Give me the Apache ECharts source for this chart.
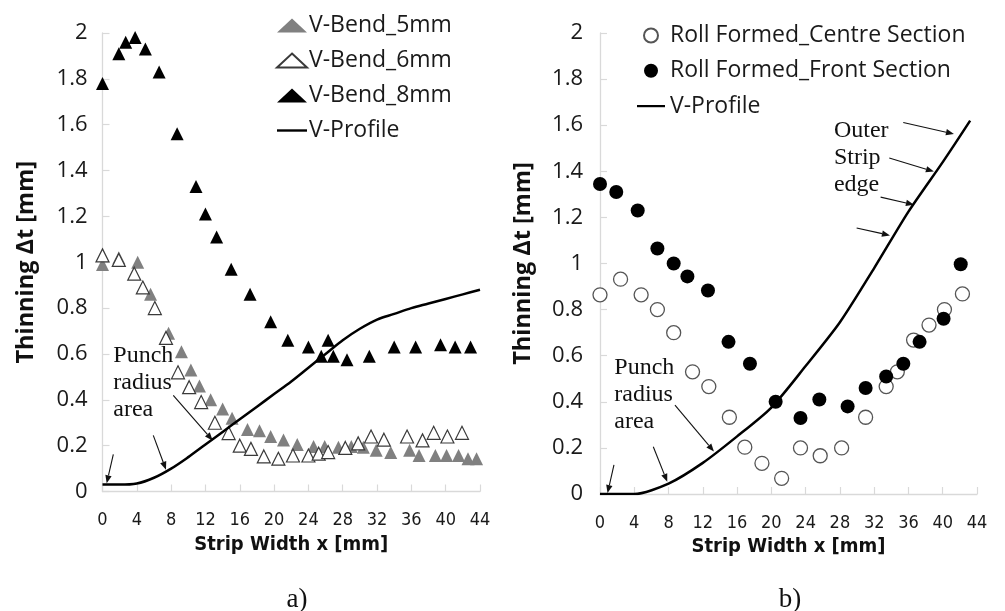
<!DOCTYPE html>
<html><head><meta charset="utf-8">
<script src="https://cdn.jsdelivr.net/npm/echarts@6/dist/echarts.min.js"></script>
<style>html,body{margin:0;padding:0;background:#fff}#c{width:1005px;height:611px}</style>
</head><body><div id="c"></div>
<script>
// ---------- Panel a) ----------
const xTicks = [0, 4, 8, 12, 16, 20, 24, 28, 32, 36, 40, 44];
const yTicks = [0, 0.2, 0.4, 0.6, 0.8, 1, 1.2, 1.4, 1.6, 1.8, 2];

const vb5X = [0, 1.9, 4.1, 5.6, 7.7, 9.2, 10.3, 11.3, 12.6, 14.0, 15.1, 16.9, 18.3, 19.6, 21.1, 22.7, 24.6, 25.9, 27.5, 29.0, 30.4, 31.9, 33.6, 35.8, 36.9, 38.8, 40.1, 41.5, 42.6, 43.6];
const vb5Y = [0.99, 1.02, 1.00, 0.86, 0.69, 0.61, 0.53, 0.46, 0.40, 0.36, 0.32, 0.27, 0.265, 0.24, 0.225, 0.205, 0.196, 0.196, 0.193, 0.196, 0.193, 0.18, 0.17, 0.18, 0.157, 0.157, 0.157, 0.157, 0.143, 0.143];

const vb6X = [0, 1.9, 3.7, 4.7, 6.1, 7.4, 8.8, 10.1, 11.5, 13.1, 14.7, 16.0, 17.3, 18.8, 20.5, 22.2, 24.0, 25.2, 26.3, 28.3, 29.8, 31.3, 32.8, 35.5, 37.3, 38.6, 40.2, 41.9];
const vb6Y = [1.03, 1.01, 0.95, 0.89, 0.80, 0.67, 0.52, 0.455, 0.39, 0.30, 0.255, 0.20, 0.186, 0.153, 0.143, 0.157, 0.157, 0.165, 0.172, 0.19, 0.21, 0.24, 0.226, 0.24, 0.223, 0.256, 0.24, 0.256];

const vb8X = [0, 1.9, 2.7, 3.8, 5.0, 6.6, 8.7, 10.9, 12.0, 13.3, 15.0, 17.2, 19.6, 21.6, 24.0, 25.5, 26.3, 26.9, 28.5, 31.1, 34.0, 36.5, 39.4, 41.1, 42.9];
const vb8Y = [1.78, 1.91, 1.96, 1.98, 1.93, 1.83, 1.56, 1.33, 1.21, 1.11, 0.97, 0.86, 0.74, 0.66, 0.63, 0.59, 0.66, 0.59, 0.575, 0.59, 0.63, 0.63, 0.64, 0.63, 0.63];

const profAX = [0, 2, 4, 6, 8, 10, 12, 14, 16, 18, 20, 22, 24, 26, 28, 30, 32, 34, 36, 38, 40, 42, 44];
const profAY = [0.03, 0.03, 0.035, 0.06, 0.10, 0.15, 0.205, 0.26, 0.315, 0.37, 0.425, 0.48, 0.54, 0.60, 0.66, 0.71, 0.75, 0.775, 0.80, 0.82, 0.84, 0.86, 0.88];

// ---------- Panel b) ----------
const centreX = [0, 2.4, 4.8, 6.7, 8.6, 10.8, 12.7, 15.1, 16.9, 18.9, 21.2, 23.4, 25.7, 28.2, 31.0, 33.4, 34.7, 36.6, 38.4, 40.2, 42.3];
const centreY = [0.864, 0.932, 0.864, 0.80, 0.70, 0.53, 0.466, 0.333, 0.203, 0.133, 0.068, 0.20, 0.166, 0.20, 0.333, 0.466, 0.53, 0.668, 0.733, 0.80, 0.868];

const frontX = [0, 1.9, 4.4, 6.7, 8.6, 10.2, 12.6, 15.0, 17.5, 20.5, 23.4, 25.6, 28.9, 31.0, 33.4, 35.4, 37.3, 40.1, 42.1];
const frontY = [1.345, 1.31, 1.23, 1.065, 1.0, 0.944, 0.883, 0.66, 0.565, 0.40, 0.33, 0.41, 0.38, 0.46, 0.51, 0.565, 0.66, 0.76, 0.997];

const profBX = [0, 4, 8, 12, 16, 20, 24, 28, 32, 36, 40, 43.2];
const profBY = [0, 0, 0.045, 0.135, 0.25, 0.375, 0.555, 0.745, 0.98, 1.225, 1.44, 1.62];

// ---------- Annotations (data units: [x1, y1, x2, y2]) ----------
const arrowsA = [[1.26, 0.162, 0.49, 0.036], [5.92, 0.245, 7.40, 0.095], [8.25, 0.419, 12.84, 0.223]];
const arrowsB = [[1.63, 0.126, 0.88, 0.004], [6.22, 0.205, 7.85, 0.053], [8.75, 0.386, 13.3, 0.184],
                 [35.39, 1.612, 41.31, 1.562], [33.76, 1.458, 38.97, 1.399], [32.75, 1.288, 36.64, 1.255], [29.95, 1.154, 33.84, 1.122]];
const notesA = [{text: 'Punch\nradius\narea', at: [1.26, 0.65]}];
const notesB = [{text: 'Punch\nradius\narea', at: [1.67, 0.606]}, {text: 'Outer\nStrip\nedge', at: [27.3, 1.634]}];

const pairs = (xs, ys) => xs.map((x, i) => [x, ys[i]]);

const SANS = '"Open Sans", "DejaVu Sans", sans-serif';
const NARROW = '"Liberation Sans Narrow", "DejaVu Sans Condensed", sans-serif';
const SERIF = '"Liberation Serif", "Times New Roman", serif';
const AXC = '#d9d9d9';
const LINE_ICON = 'path://M0 0H30V2.4H0Z';

function xAx(gi) {
  return {
    gridIndex: gi, type: 'value', min: 0, max: 44, interval: 4,
    name: 'Strip Width x [mm]', nameLocation: 'middle', nameGap: 35,
    nameTextStyle: {fontFamily: NARROW, fontWeight: 'bold', fontSize: 20, color: '#111'},
    axisLine: {onZero: false, lineStyle: {color: AXC, width: 1.3}},
    axisTick: {inside: true, length: 7, lineStyle: {color: AXC, width: 1.2}},
    axisLabel: {fontFamily: NARROW, fontSize: 18, color: '#1a1a1a', margin: 20},
    splitLine: {show: false}
  };
}
function yAx(gi, gap, lm) {
  return {
    gridIndex: gi, type: 'value', min: 0, max: 2, interval: 0.2,
    name: 'Thinning Δt [mm]', nameLocation: 'middle', nameGap: gap,
    nameTextStyle: {fontFamily: SANS, fontWeight: 'bold', fontSize: 23.5, color: '#111'},
    axisLine: {show: true, onZero: false, lineStyle: {color: AXC, width: 1.3}},
    axisTick: {show: true, inside: true, length: 7, lineStyle: {color: AXC, width: 1.2}},
    axisLabel: {fontFamily: SANS, fontSize: 22, color: '#1a1a1a', margin: lm},
    splitLine: {show: false}
  };
}

const tri = (name, gi, xs, ys, fill, border) => ({
  name, type: 'scatter', xAxisIndex: gi, yAxisIndex: gi, data: pairs(xs, ys),
  symbol: 'triangle', symbolSize: 13,
  itemStyle: {color: fill, borderColor: border, borderWidth: border ? 1.2 : 0, opacity: 1}
});
const circ = (name, gi, xs, ys, fill, border) => ({
  name, type: 'scatter', xAxisIndex: gi, yAxisIndex: gi, data: pairs(xs, ys),
  symbol: 'circle', symbolSize: 14,
  itemStyle: {color: fill, borderColor: border, borderWidth: border ? 1.3 : 0, opacity: 1}
});

const option = {
  animation: false,
  backgroundColor: '#fff',
  grid: [
    {left: 102.5, top: 33, width: 377.5, height: 458.5, outerBoundsMode: 'none', containLabel: false},
    {left: 600, top: 33, width: 377, height: 461, outerBoundsMode: 'none', containLabel: false}
  ],
  xAxis: [xAx(0), xAx(1)],
  yAxis: [yAx(0, 64, 15), yAx(1, 65, 17)],
  legend: [
    {data: ['V-Bend_5mm', 'V-Bend_6mm', 'V-Bend_8mm', {name: 'V-Profile', icon: LINE_ICON}],
     orient: 'vertical', left: 271, top: 9,
     itemWidth: 30, itemHeight: 14, itemGap: 12, selectedMode: false,
     textStyle: {fontFamily: SANS, fontSize: 23, color: '#1a1a1a', padding: [0, 0, 0, -3]}},
    {data: ['Roll Formed_Centre Section', 'Roll Formed_Front Section', {name: 'V-Profile', icon: LINE_ICON}],
     orient: 'vertical', left: 632, top: 19,
     itemWidth: 28, itemHeight: 14, itemGap: 12.3, selectedMode: false,
     textStyle: {fontFamily: SANS, fontSize: 23, color: '#1a1a1a'}}
  ],
  series: [
    tri('V-Bend_5mm', 0, vb5X, vb5Y, '#808080', null),
    tri('V-Bend_6mm', 0, vb6X, vb6Y, '#ffffff', '#3a3a3a'),
    tri('V-Bend_8mm', 0, vb8X, vb8Y, '#000000', null),
    {name: 'V-Profile', type: 'line', xAxisIndex: 0, yAxisIndex: 0, data: pairs(profAX, profAY),
     symbol: 'none', showSymbol: false, smooth: 0.35, lineStyle: {color: '#000', width: 2.5}, itemStyle: {color: '#000'}},
    circ('Roll Formed_Centre Section', 1, centreX, centreY, '#ffffff', '#555555'),
    circ('Roll Formed_Front Section', 1, frontX, frontY, '#000000', null),
    {name: 'V-Profile', type: 'line', xAxisIndex: 1, yAxisIndex: 1, data: pairs(profBX, profBY),
     symbol: 'none', showSymbol: false, smooth: 0.25, lineStyle: {color: '#000', width: 2.5}, itemStyle: {color: '#000'}}
  ]
};

const chart = echarts.init(document.getElementById('c'), null, {renderer: 'canvas'});
chart.setOption(option);

function arrowEls(p1, p2) {
  const dx = p2[0] - p1[0], dy = p2[1] - p1[1];
  const len = Math.hypot(dx, dy), ux = dx / len, uy = dy / len;
  const hl = 8, hw = 3.2;
  const bx = p2[0] - ux * hl, by = p2[1] - uy * hl;
  return [
    {type: 'line', silent: true, shape: {x1: p1[0], y1: p1[1], x2: bx, y2: by}, style: {stroke: '#111', lineWidth: 1.1}},
    {type: 'polygon', silent: true, shape: {points: [[p2[0], p2[1]], [bx - uy * hw, by + ux * hw], [bx + uy * hw, by - ux * hw]]}, style: {fill: '#111'}}
  ];
}
const g = [];
[[0, arrowsA, notesA], [1, arrowsB, notesB]].forEach(([gi, arrs, notes]) => {
  arrs.forEach(a => {
    const p1 = chart.convertToPixel({gridIndex: gi}, [a[0], a[1]]);
    const p2 = chart.convertToPixel({gridIndex: gi}, [a[2], a[3]]);
    g.push(...arrowEls(p1, p2));
  });
  notes.forEach(n => {
    const p = chart.convertToPixel({gridIndex: gi}, n.at);
    g.push({type: 'text', silent: true, x: p[0], y: p[1],
      style: {text: n.text, fontFamily: SERIF, fontSize: 24, lineHeight: 27, fill: '#111', align: 'left', verticalAlign: 'top'}});
  });
});
g.push({type: 'text', silent: true, x: 297, y: 600, style: {text: 'a)', fontFamily: SERIF, fontSize: 27, fill: '#111', align: 'center', verticalAlign: 'middle'}});
g.push({type: 'text', silent: true, x: 790, y: 600, style: {text: 'b)', fontFamily: SERIF, fontSize: 27, fill: '#111', align: 'center', verticalAlign: 'middle'}});
chart.setOption({graphic: g});
</script>
</body></html>
